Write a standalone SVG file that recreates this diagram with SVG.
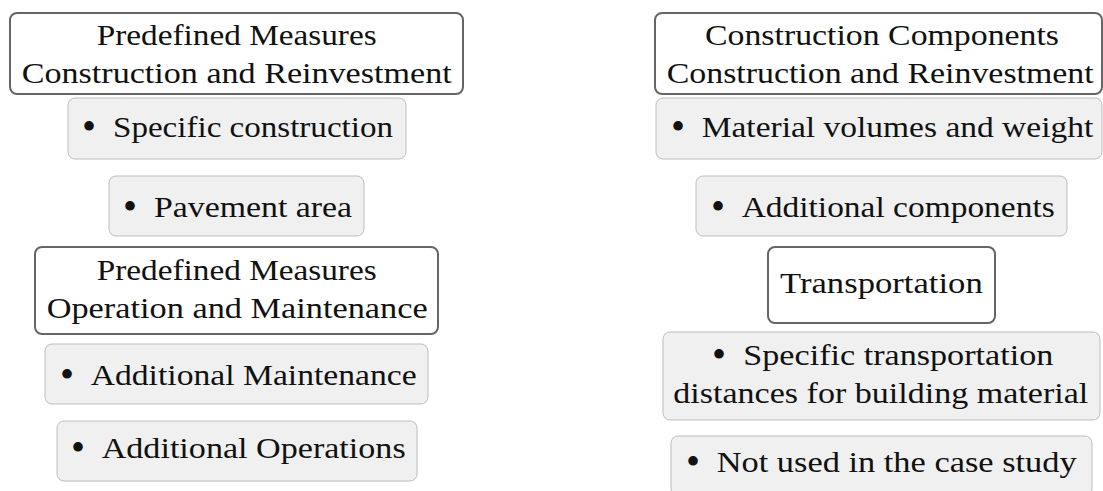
<svg xmlns="http://www.w3.org/2000/svg" width="1103" height="491" viewBox="0 0 1103 491">
<style>
.hdr{fill:#ffffff;stroke:#666666;stroke-width:2}
.item{fill:#f0f0f0;stroke:#bdbdbd;stroke-width:1}
text{font-family:'Liberation Serif',serif;font-size:30px;fill:#111}
.b{text-anchor:middle;font-size:40px}
</style>
<rect width="1103" height="491" fill="#ffffff"/>
<g id="connectors"></g>
<g id="pm-cr">
<rect class="hdr" x="10" y="13" width="453" height="81" rx="7"/>
<text x="96.7" y="45" textLength="280" lengthAdjust="spacingAndGlyphs">Predefined Measures</text>
<text x="21.7" y="83" textLength="430" lengthAdjust="spacingAndGlyphs">Construction and Reinvestment</text>
</g>
<g id="specific-construction">
<rect class="item" x="68" y="98" width="338" height="61" rx="7"/>
<text class="b" x="89" y="140">•</text>
<text x="113" y="137" textLength="280" lengthAdjust="spacingAndGlyphs">Specific construction</text>
</g>
<g id="pavement-area">
<rect class="item" x="109" y="176" width="255" height="60" rx="7"/>
<text class="b" x="130" y="220">•</text>
<text x="154" y="217" textLength="198" lengthAdjust="spacingAndGlyphs">Pavement area</text>
</g>
<g id="pm-om">
<rect class="hdr" x="35" y="247" width="403" height="87" rx="7"/>
<text x="96.7" y="280" textLength="280" lengthAdjust="spacingAndGlyphs">Predefined Measures</text>
<text x="46.7" y="318" textLength="381" lengthAdjust="spacingAndGlyphs">Operation and Maintenance</text>
</g>
<g id="additional-maintenance">
<rect class="item" x="45" y="344" width="383" height="60" rx="7"/>
<text class="b" x="67" y="388">•</text>
<text x="90.7" y="385" textLength="326" lengthAdjust="spacingAndGlyphs">Additional Maintenance</text>
</g>
<g id="additional-operations">
<rect class="item" x="57" y="421" width="360" height="60" rx="7"/>
<text class="b" x="78" y="461">•</text>
<text x="101.7" y="458" textLength="304" lengthAdjust="spacingAndGlyphs">Additional Operations</text>
</g>
<g id="cc-cr">
<rect class="hdr" x="655" y="13" width="447" height="81" rx="7"/>
<text x="705" y="45" textLength="354" lengthAdjust="spacingAndGlyphs">Construction Components</text>
<text x="666.7" y="83" textLength="427" lengthAdjust="spacingAndGlyphs">Construction and Reinvestment</text>
</g>
<g id="material-volumes">
<rect class="item" x="656" y="98" width="446" height="61" rx="7"/>
<text class="b" x="678" y="140">•</text>
<text x="701.7" y="137" textLength="391.6" lengthAdjust="spacingAndGlyphs">Material volumes and weight</text>
</g>
<g id="additional-components">
<rect class="item" x="696" y="176" width="371" height="60" rx="7"/>
<text class="b" x="718" y="220">•</text>
<text x="741.7" y="217" textLength="313" lengthAdjust="spacingAndGlyphs">Additional components</text>
</g>
<g id="transportation">
<rect class="hdr" x="768" y="247" width="227" height="76" rx="7"/>
<text x="780" y="293" textLength="202.7" lengthAdjust="spacingAndGlyphs">Transportation</text>
</g>
<g id="transport-distances">
<rect class="item" x="663" y="332" width="437" height="88" rx="7"/>
<text class="b" x="719" y="368">•</text>
<text x="743.3" y="365" textLength="310" lengthAdjust="spacingAndGlyphs">Specific transportation</text>
<text x="673.3" y="403" textLength="415" lengthAdjust="spacingAndGlyphs">distances for building material</text>
</g>
<g id="not-used">
<rect class="item" x="671" y="436" width="421" height="60" rx="7"/>
<text class="b" x="693" y="475">•</text>
<text x="716.7" y="472" textLength="360" lengthAdjust="spacingAndGlyphs">Not used in the case study</text>
</g>
</svg>
